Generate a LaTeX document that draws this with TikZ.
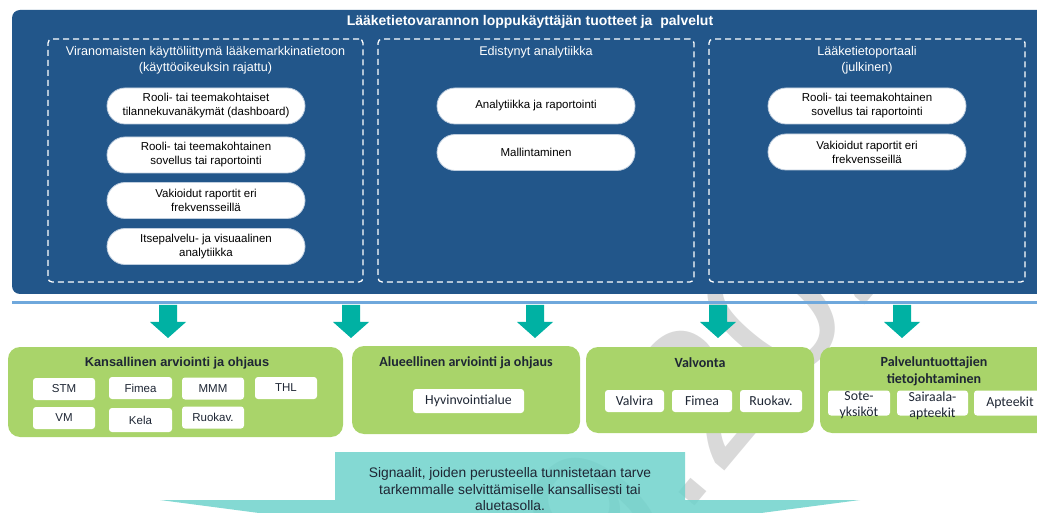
\documentclass[tikz,border=0pt]{standalone}
\usepackage{fontspec}
\setmainfont{Liberation Sans}
\newfontfamily\calibri{Carlito}
\begin{document}
\begin{tikzpicture}[x=1pt,y=-1pt,
  panel/.style={fill=panelblue, rounded corners=8pt, inner sep=0pt},
  dashbox/.style={draw=white, line width=1.3pt, dash pattern=on 6pt off 4pt,
    rounded corners=4pt, minimum width=#1, minimum height=243pt, inner sep=0pt},
  dashtitle/.style={text=white, align=center, font=\fontsize{12.6}{16}\selectfont},
  pill/.style={draw=pilledge, line width=0.8pt, fill=white, rounded corners=18pt,
    minimum width=198pt, minimum height=36pt, inner sep=0pt, align=center,
    text=black, font=\fontsize{11.5}{14}\selectfont},
  greenbox/.style={fill=greenfill, rounded corners=12pt, inner sep=0pt},
  gtitle/.style={text=titledark, align=center, font=\bfseries\fontsize{12.8}{14}\selectfont},
  ctitle/.style={text=titledark, align=center, font=\calibri\bfseries\fontsize{14}{17}\selectfont},
  tag/.style={fill=white, rounded corners=3pt, minimum width=#1, minimum height=22pt,
    inner sep=0pt, text=titledark, font=\fontsize{11.5}{13}\selectfont},
  ctag/.style={fill=white, rounded corners=3pt, minimum width=#1, minimum height=22pt,
    inner sep=0pt, text=titledark, font=\calibri\fontsize{13.8}{16}\selectfont},
  ctext/.style={text=titledark, align=center, font=\calibri\fontsize{13.8}{16}\selectfont, inner sep=0pt},
  tealarrow/.pic={\fill[tealdark] (-9,0) -- (9,0) -- (9,17) -- (18,17) -- (0,33) -- (-18,17) -- (-9,17) -- cycle;}
]
\definecolor{panelblue}{RGB}{34,86,138}
\definecolor{pilledge}{RGB}{190,205,222}
\definecolor{linkblue}{RGB}{111,168,220}
\definecolor{tealdark}{RGB}{0,177,163}
\definecolor{tealsoft}{RGB}{110,210,203}
\definecolor{greenfill}{RGB}{169,212,106}
\definecolor{titledark}{RGB}{30,38,52}
\definecolor{wmgray}{RGB}{217,217,217}

\useasboundingbox (0,0) rectangle (1037,513);
\clip (0,0) rectangle (1037,513);

% faint date watermark behind the panels
\node[rotate=50, anchor=base west, inner sep=0pt, text=wmgray,
  font=\fontsize{195}{200}\selectfont] (wm) at (614,603) {9.2020};

% upper panel: end-user products and services
\node[panel, minimum width=1033pt, minimum height=284pt] (panel) at (528.5,152) {};
\node[text=white, font=\bfseries\fontsize{14}{16}\selectfont] (title) at (530,21.5)
  {Lääketietovarannon loppukäyttäjän tuotteet ja~ palvelut};

\node[dashbox=315pt] (auth) at (205.5,160.5) {};
\node[dashbox=316pt] (adv)  at (536,160.5) {};
\node[dashbox=316pt] (port) at (867,160.5) {};

\node[dashtitle] (authT) at (205.5,60) {Viranomaisten käyttöliittymä lääkemarkkinatietoon\\(käyttöoikeuksin rajattu)};
\node[dashtitle] (advT)  at (536,52) {Edistynyt analytiikka};
\node[dashtitle] (portT) at (867,60) {Lääketietoportaali\\(julkinen)};

\node[pill] (a1) at (206,106)   {Rooli- tai teemakohtaiset\\tilannekuvanäkymät (dashboard)};
\node[pill] (a2) at (206,155)   {Rooli- tai teemakohtainen\\sovellus tai raportointi};
\node[pill] (a3) at (206,200.5) {Vakioidut raportit eri\\frekvensseillä};
\node[pill] (a4) at (206,246.5) {Itsepalvelu- ja visuaalinen\\analytiikka};

\node[pill] (b1) at (536,106)   {Analytiikka ja raportointi};
\node[pill] (b2) at (536,152.5) {Mallintaminen};

\node[pill] (c1) at (867,106)   {Rooli- tai teemakohtainen\\sovellus tai raportointi};
\node[pill] (c2) at (867,152)   {Vakioidut raportit eri\\frekvensseillä};

% distribution line and the arrows down to the user groups
\coordinate (lineL) at (12,303);
\coordinate (lineR) at (1040,303);
\draw[linkblue, line width=3pt] (lineL) -- (lineR);

\foreach \x in {168,351,535,718,902}
  \pic at (\x,305) {tealarrow};

% user groups
\node[greenbox, minimum width=335pt, minimum height=90pt] (nat) at (175.5,392) {};
\node[greenbox, minimum width=228pt, minimum height=88pt] (reg) at (466,390) {};
\node[greenbox, minimum width=228pt, minimum height=86pt] (sup) at (700,390) {};
\node[greenbox, minimum width=232pt, minimum height=86pt] (prov) at (936,390) {};

\node[gtitle] (natT) at (177,363) {Kansallinen arviointi ja ohjaus};
\node[ctitle] (regT) at (466,363) {Alueellinen arviointi ja ohjaus};
\node[ctitle] (supT) at (700,363) {Valvonta};
\node[ctitle] (provT) at (934,371.5) {Palveluntuottajien\\tietojohtaminen};

\node[tag=62pt] (stm)   at (64,389)    {STM};
\node[tag=63pt] (fim1)  at (140.5,388) {Fimea};
\node[tag=62pt] (mmm)   at (213,388.5) {MMM};
\node[tag=62pt] (thl)   at (286,388)   {THL};
\node[tag=62pt] (vm)    at (64,418)    {VM};
\node[tag=63pt, minimum height=24pt] (kela) at (140.5,420) {Kela};
\node[tag=62pt] (ruo1)  at (213,417.5) {Ruokav.};

\node[ctag=111pt, minimum height=24pt] (hyv) at (468.5,401) {Hyvinvointialue};

\node[ctag=59pt] (valv) at (634.5,401) {Valvira};
\node[ctag=60pt] (fim2) at (702,401)   {Fimea};
\node[ctag=62pt] (ruo2) at (771,401)   {Ruokav.};

\node[ctag=62pt, minimum height=25pt] (sote) at (859,403) {};
\node[ctag=71pt, minimum height=25pt] (sair) at (932.5,403) {};
\node[ctag=72pt, minimum height=25pt] (apt)  at (1010,403) {Apteekit};
\node[ctext] (soteT) at (859,405.5) {Sote-\\yksiköt};
\node[ctext] (sairT) at (932.5,405.5) {Sairaala-\\apteekit};

% signal callout at the bottom
\fill[tealsoft, fill opacity=0.85] (335,452) -- (685,452) -- (685,500) -- (860,500)
  -- (510,546) -- (160,500) -- (335,500) -- cycle;
\node[text=titledark, align=center, font=\fontsize{13.8}{16.5}\selectfont] (sig) at (510,489.5)
  {Signaalit, joiden perusteella tunnistetaan tarve\\tarkemmalle selvittämiselle kansallisesti tai\\aluetasolla.};
\end{tikzpicture}
\end{document}
